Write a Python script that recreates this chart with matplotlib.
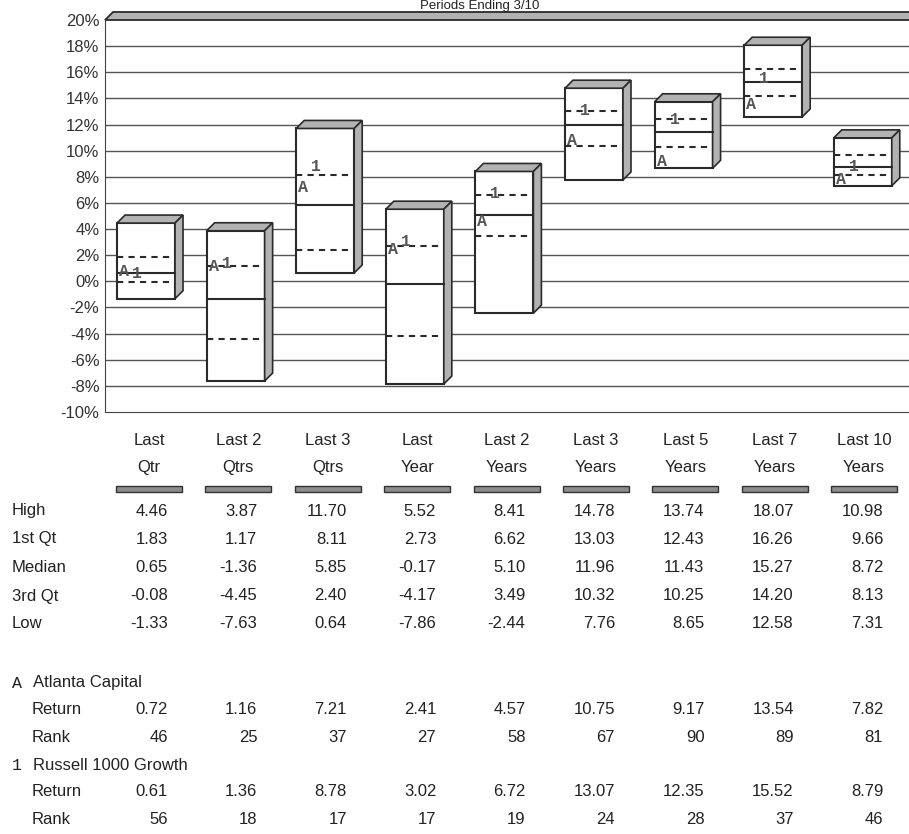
import matplotlib
matplotlib.use('Agg')
import matplotlib.pyplot as plt
from matplotlib.patches import Polygon, Rectangle

# Data
periods_top = ['Last', 'Last 2', 'Last 3', 'Last', 'Last 2', 'Last 3', 'Last 5', 'Last 7', 'Last 10']
periods_bot = ['Qtr', 'Qtrs', 'Qtrs', 'Year', 'Years', 'Years', 'Years', 'Years', 'Years']
high = [4.46, 3.87, 11.70, 5.52, 8.41, 14.78, 13.74, 18.07, 10.98]
q1 = [1.83, 1.17, 8.11, 2.73, 6.62, 13.03, 12.43, 16.26, 9.66]
median = [0.65, -1.36, 5.85, -0.17, 5.10, 11.96, 11.43, 15.27, 8.72]
q3 = [-0.08, -4.45, 2.40, -4.17, 3.49, 10.32, 10.25, 14.20, 8.13]
low = [-1.33, -7.63, 0.64, -7.86, -2.44, 7.76, 8.65, 12.58, 7.31]
atl_ret = [0.72, 1.16, 7.21, 2.41, 4.57, 10.75, 9.17, 13.54, 7.82]
atl_rank = [46, 25, 37, 27, 58, 67, 90, 89, 81]
rus_ret = [0.61, 1.36, 8.78, 3.02, 6.72, 13.07, 12.35, 15.52, 8.79]
rus_rank = [56, 18, 17, 17, 19, 24, 28, 37, 46]
yticks = list(range(-10, 22, 2))

plt.rcParams['font.family'] = ['Liberation Sans', 'DejaVu Sans']
W, H = 909, 834
fig = plt.figure(figsize=(W / 100, H / 100), dpi=100)

# chart area (pixels: x 105..909, y 20..412)
ax = fig.add_axes([105 / W, 1 - 412 / H, (W - 105) / W, (412 - 20) / H])
x0, x1 = -0.458, 8.516
ax.set_xlim(x0, x1)
ax.set_ylim(-10, 20)
for s in ['top', 'right']:
    ax.spines[s].set_visible(False)
ax.spines['left'].set_color('#444')
ax.spines['bottom'].set_color('#444')
ax.set_xticks([])
ax.set_yticks(yticks)
ax.set_yticklabels([f'{t}%' for t in yticks], fontsize=12, color='#333')
ax.tick_params(axis='y', length=0, pad=4)
for t in yticks[1:-1]:
    ax.axhline(t, color='#555', lw=1, zorder=1)

dx = 8 / 89.6
dy = 8 / 13.07
bw = 58 / 89.6
edge = '#2a2a2a'
side = '#b2b2b2'

# 3D top band at 20%
ax.add_patch(Polygon([(x0, 20), (x0 + dx, 20 + dy), (x1 + 1, 20 + dy), (x1 + 1, 20)],
                     closed=True, fc=side, ec=edge, lw=1.3, clip_on=False, zorder=2))

mono = ['Liberation Mono', 'DejaVu Sans Mono']
for i in range(len(high)):
    l, r = i - bw / 2, i + bw / 2
    hi, lo = high[i], low[i]
    ax.add_patch(Rectangle((l, lo), bw, hi - lo, fc='white', ec=edge, lw=1.5, zorder=3))
    ax.add_patch(Polygon([(l, hi), (l + dx, hi + dy), (r + dx, hi + dy), (r, hi)],
                         closed=True, fc=side, ec=edge, lw=1.2, zorder=3))
    ax.add_patch(Polygon([(r, hi), (r + dx, hi + dy), (r + dx, lo + dy), (r, lo)],
                         closed=True, fc=side, ec=edge, lw=1.2, zorder=3))
    ax.plot([l, r], [median[i], median[i]], color=edge, lw=1.5, zorder=4)
    ax.plot([l, r], [q1[i], q1[i]], color=edge, lw=1.5, ls=(0, (3, 2.5)), zorder=4)
    ax.plot([l, r], [q3[i], q3[i]], color=edge, lw=1.5, ls=(0, (3, 2.5)), zorder=4)
    ax.text(l + 7 / 89.6, atl_ret[i], 'A', family=mono, fontsize=12, weight='bold',
            color='#555', ha='center', va='center', zorder=5)
    ax.text(l + 20 / 89.6, rus_ret[i], '1', family=mono, fontsize=12, weight='bold',
            color='#555', ha='center', va='center', zorder=5)

fig.text(480 / W, 1 - 0.5 / H, 'Periods Ending 3/10', ha='center', va='top',
         fontsize=9.5, color='#222')

# table (pixel coordinates)
tab = fig.add_axes([0, 0, 1, 1], zorder=-1)
tab.set_xlim(0, W)
tab.set_ylim(H, 0)
tab.axis('off')
tab.patch.set_alpha(0)

cx = [149 + 89.4 * i for i in range(9)]
fs = 12
tc = '#222'
for i in range(9):
    tab.text(cx[i], 440, periods_top[i], ha='center', va='center', fontsize=fs, color=tc)
    tab.text(cx[i], 467, periods_bot[i], ha='center', va='center', fontsize=fs, color=tc)
    tab.add_patch(Rectangle((cx[i] - 33, 486), 66, 6, fc='#8c8c8c', ec='#333', lw=1))

rows = [('High', high, 511), ('1st Qt', q1, 539), ('Median', median, 567),
        ('3rd Qt', q3, 596), ('Low', low, 624)]
for name, vals, y in rows:
    tab.text(12, y, name, ha='left', va='center', fontsize=fs, color=tc)
    for i in range(9):
        tab.text(cx[i] + 19, y, f'{vals[i]:.2f}', ha='right', va='center', fontsize=fs, color=tc)

tab.text(12, 683, 'A', family=mono, ha='left', va='center', fontsize=12, color=tc)
tab.text(33, 683, 'Atlanta Capital', ha='left', va='center', fontsize=fs, color=tc)
tab.text(12, 765, '1', family=mono, ha='left', va='center', fontsize=12, color=tc)
tab.text(33, 765, 'Russell 1000 Growth', ha='left', va='center', fontsize=fs, color=tc)

sub = [('Return', atl_ret, 710, True), ('Rank', atl_rank, 737, False),
       ('Return', rus_ret, 792, True), ('Rank', rus_rank, 820, False)]
for name, vals, y, is_ret in sub:
    tab.text(32, y, name, ha='left', va='center', fontsize=fs, color=tc)
    for i in range(9):
        s = f'{vals[i]:.2f}' if is_ret else str(vals[i])
        tab.text(cx[i] + 19, y, s, ha='right', va='center', fontsize=fs, color=tc)

fig.savefig('out.png', dpi=100, facecolor='white')
